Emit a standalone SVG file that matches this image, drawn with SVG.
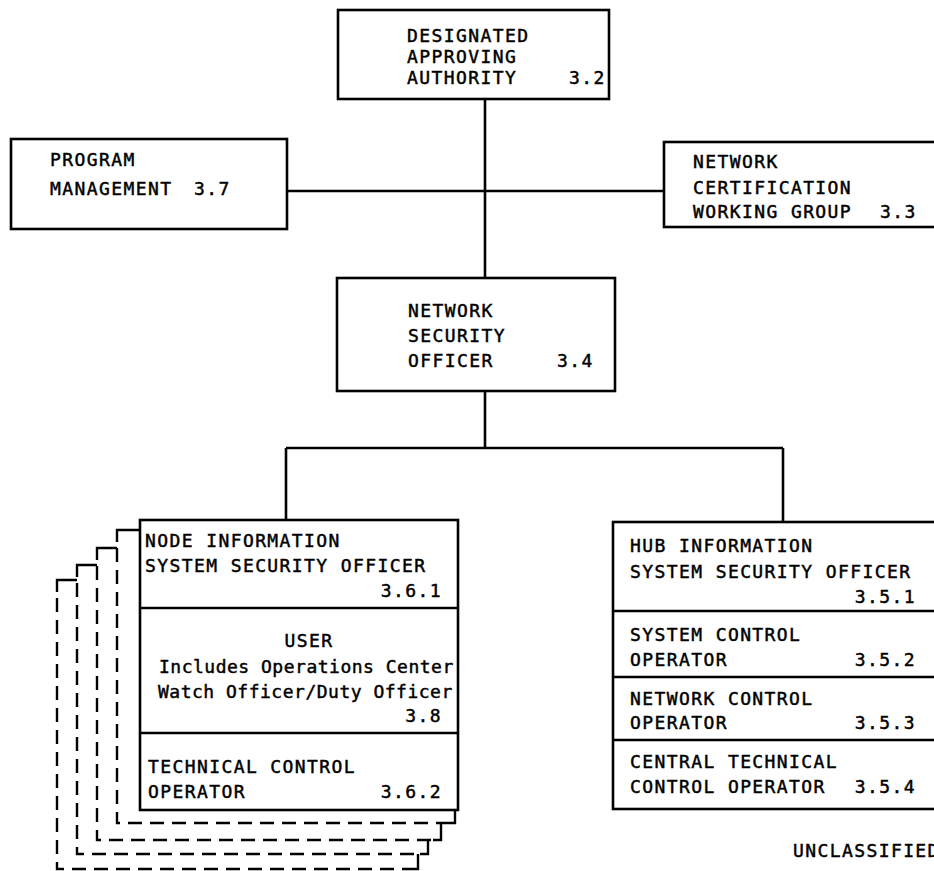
<svg xmlns="http://www.w3.org/2000/svg" width="934" height="871" viewBox="0 0 934 871">
<style>
.box{fill:#fff;stroke:#000;stroke-width:2.6}
.div{stroke:#000;stroke-width:2.4;fill:none}
.con{stroke:#000;stroke-width:2.6;fill:none}
.sol{stroke:#000;stroke-width:2.4;fill:none}
.dash{stroke:#000;stroke-width:2.4;fill:none;stroke-dasharray:14 8}
text{font-family:"DejaVu Sans Mono","Liberation Mono",monospace;font-size:18px;letter-spacing:1.4px;fill:#000;stroke:#000;stroke-width:0.45}
.sm{letter-spacing:0.5px}
.end{text-anchor:end}
.mid{text-anchor:middle}
</style>
<rect width="934" height="871" fill="#fff"/>
<g id="connectors">
<path class="con" d="M485,99 V278"/>
<path class="con" d="M287,191 H664"/>
<path class="con" d="M485,391 V448"/>
<path class="con" d="M286,448 H783"/>
<path class="con" d="M286,448 V520"/>
<path class="con" d="M783,448 V522"/>
</g>
<g id="node-stack-shadows">
<path class="sol" d="M140,530 H117 V542"/>
<path class="dash" d="M117,548 V823 H447"/>
<path class="sol" d="M447,823 H455 V810"/>
<path class="sol" d="M117,548 H97 V560"/>
<path class="dash" d="M97,566 V840 H433"/>
<path class="sol" d="M433,840 H441 V823"/>
<path class="sol" d="M97,565 H77 V577"/>
<path class="dash" d="M77,583 V854 H420"/>
<path class="sol" d="M420,854 H428 V840"/>
<path class="sol" d="M77,580 H57 V592"/>
<path class="dash" d="M57,598 V869 H410"/>
<path class="sol" d="M410,869 H418 V854"/>
</g>
<g id="daa">
<rect class="box" x="338" y="10" width="271" height="89"/>
<text x="407" y="42">DESIGNATED</text>
<text x="407" y="63">APPROVING</text>
<text x="407" y="84">AUTHORITY</text>
<text x="569" y="84">3.2</text>
</g>
<g id="program-management">
<rect class="box" x="11" y="139" width="276" height="90"/>
<text x="50" y="166">PROGRAM</text>
<text x="50" y="195">MANAGEMENT</text>
<text x="194" y="195">3.7</text>
</g>
<g id="ncwg">
<rect class="box" x="664" y="142" width="290" height="85"/>
<text x="693" y="168">NETWORK</text>
<text x="693" y="194">CERTIFICATION</text>
<text x="693" y="218">WORKING GROUP</text>
<text x="880" y="218">3.3</text>
</g>
<g id="nso">
<rect class="box" x="337" y="278" width="278" height="113"/>
<text x="408" y="317">NETWORK</text>
<text x="408" y="342">SECURITY</text>
<text x="408" y="367">OFFICER</text>
<text x="557" y="367">3.4</text>
</g>
<g id="node-isso">
<rect class="box" x="140" y="520" width="318" height="290"/>
<path class="div" d="M140,608 H458 M140,733 H458"/>
<text x="145" y="547">NODE INFORMATION</text>
<text x="145" y="572">SYSTEM SECURITY OFFICER</text>
<text class="end" x="442" y="597">3.6.1</text>
<text class="mid" x="309" y="647">USER</text>
<text class="sm" x="159" y="673">Includes Operations Center</text>
<text class="sm" x="158" y="698">Watch Officer/Duty Officer</text>
<text class="end" x="442" y="722">3.8</text>
<text x="148" y="773">TECHNICAL CONTROL</text>
<text x="148" y="798">OPERATOR</text>
<text class="end" x="442" y="798">3.6.2</text>
</g>
<g id="hub-isso">
<rect class="box" x="613" y="522" width="340" height="287"/>
<path class="div" d="M613,611 H934 M613,677 H934 M613,740 H934"/>
<text x="630" y="552">HUB INFORMATION</text>
<text x="630" y="578">SYSTEM SECURITY OFFICER</text>
<text class="end" x="916" y="603">3.5.1</text>
<text x="630" y="641">SYSTEM CONTROL</text>
<text x="630" y="666">OPERATOR</text>
<text class="end" x="916" y="666">3.5.2</text>
<text x="630" y="705">NETWORK CONTROL</text>
<text x="630" y="729">OPERATOR</text>
<text class="end" x="916" y="729">3.5.3</text>
<text x="630" y="768">CENTRAL TECHNICAL</text>
<text x="630" y="793">CONTROL OPERATOR</text>
<text class="end" x="916" y="793">3.5.4</text>
</g>
<text x="793" y="857">UNCLASSIFIED</text>
</svg>
